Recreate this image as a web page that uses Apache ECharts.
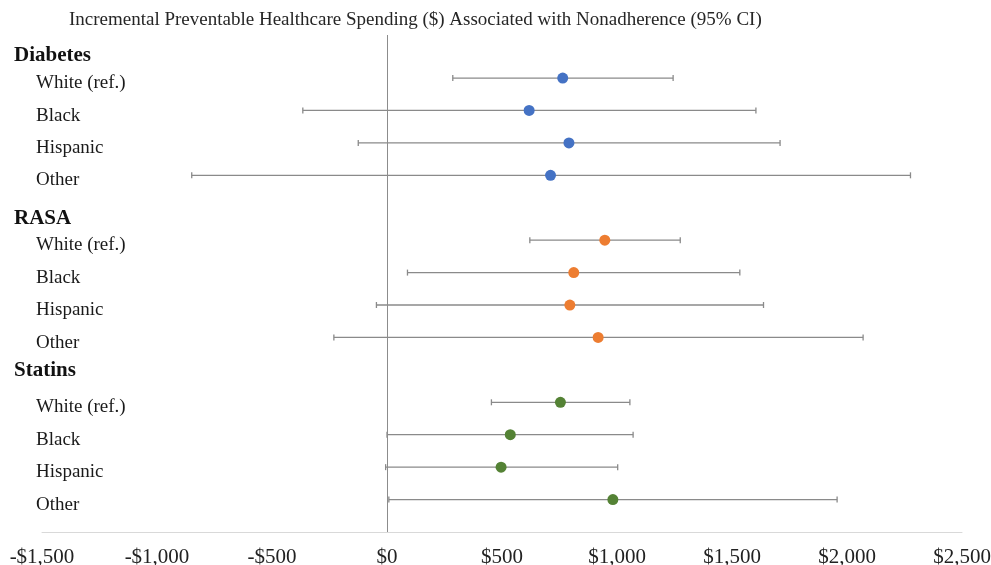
<!DOCTYPE html>
<html>
<head>
<meta charset="utf-8">
<script src="https://cdn.jsdelivr.net/npm/echarts@6/dist/echarts.min.js"></script>
<style>
  html, body { margin: 0; padding: 0; background: #fff; }
  #chart { width: 991px; height: 565px; }
</style>
</head>
<body>
<div id="chart"></div>
<script>
// Medication groups and the race/ethnicity subgroups within each
const groups = ['Diabetes', 'RASA', 'Statins'];
const subgroups = ['White (ref.)', 'Black', 'Hispanic', 'Other'];

// Point estimates and 95% CI bounds ($), in subgroup order
const diabetesEst  = [764, 618, 791, 711];
const diabetesLow  = [286, -366, -125, -849];
const diabetesHigh = [1244, 1604, 1709, 2276];

const rasaEst  = [947, 812, 795, 918];
const rasaLow  = [621, 89, -46, -231];
const rasaHigh = [1275, 1534, 1637, 2070];

const statinsEst  = [754, 536, 496, 982];
const statinsLow  = [454, 0, -6, 8];
const statinsHigh = [1056, 1070, 1003, 1957];

// X-axis ticks
const xTicks = [-1500, -1000, -500, 0, 500, 1000, 1500, 2000, 2500];

const groupColors = ['#4472C4', '#ED7D31', '#548235'];
const estimates = [diabetesEst, rasaEst, statinsEst];
const lows = [diabetesLow, rasaLow, statinsLow];
const highs = [diabetesHigh, rasaHigh, statinsHigh];

// Vertical slots: each group takes a heading slot followed by its four rows
const headerSlots = [0.31, 5.32, 10.03];
const rowSlot = (g, k) => g * 5 + 1 + k;
// Row captions sit a little below their markers
const rowLabelDrop = 0.16;

const rowValues = [];
const rowLabels = [];
groups.forEach((g, gi) => {
  subgroups.forEach((s, si) => {
    rowValues.push(rowSlot(gi, si) + rowLabelDrop);
    rowLabels.push(s);
  });
});

function fmtDollar(v) {
  return (v < 0 ? '-' : '') + '$' + Math.abs(v).toLocaleString('en-US');
}

const serif = 'Liberation Serif, Times New Roman, serif';
const series = [];

groups.forEach((g, gi) => {
  const barData = subgroups.map((s, si) => [lows[gi][si], highs[gi][si], rowSlot(gi, si)]);
  series.push({
    type: 'custom',
    name: g + ' CI',
    silent: true,
    z: 2,
    encode: { x: [0, 1], y: 2 },
    data: barData,
    renderItem: function (params, api) {
      const y = api.value(2);
      const a = api.coord([api.value(0), y]);
      const b = api.coord([api.value(1), y]);
      const cap = 3;
      const style = { stroke: '#8a8a8a', lineWidth: 1.3 };
      return {
        type: 'group',
        children: [
          { type: 'line', shape: { x1: a[0], y1: a[1], x2: b[0], y2: b[1] }, style: style },
          { type: 'line', shape: { x1: a[0], y1: a[1] - cap, x2: a[0], y2: a[1] + cap }, style: style },
          { type: 'line', shape: { x1: b[0], y1: b[1] - cap, x2: b[0], y2: b[1] + cap }, style: style }
        ]
      };
    }
  });
  series.push({
    type: 'scatter',
    name: g,
    z: 3,
    symbol: 'circle',
    symbolSize: 11,
    itemStyle: { color: groupColors[gi], opacity: 1 },
    data: subgroups.map((s, si) => [estimates[gi][si], rowSlot(gi, si)])
  });
});

// Zero reference line
series[1].markLine = {
  silent: true,
  symbol: 'none',
  label: { show: false },
  lineStyle: { color: '#8c8c8c', width: 1, type: 'solid' },
  data: [{ xAxis: 0 }]
};

const yBase = {
  type: 'value',
  inverse: true,
  min: -0.327,
  max: 15,
  axisLine: { show: false },
  axisTick: { show: false },
  splitLine: { show: false }
};

const chart = echarts.init(document.getElementById('chart'));
chart.setOption({
  backgroundColor: '#ffffff',
  animation: false,
  title: {
    text: 'Incremental Preventable Healthcare Spending ($) Associated with Nonadherence (95% CI)',
    left: 64,
    top: 6,
    textStyle: { fontFamily: serif, fontSize: 19, fontWeight: 'normal', color: '#262626' }
  },
  grid: { left: 42, right: 29, top: 35, bottom: 33, outerBoundsMode: 'none', containLabel: false },
  xAxis: {
    type: 'value',
    min: xTicks[0],
    max: xTicks[xTicks.length - 1],
    interval: 500,
    axisLine: { show: true, onZero: false, lineStyle: { color: '#d9d9d9', width: 1 } },
    axisTick: { show: false },
    splitLine: { show: false },
    axisLabel: {
      formatter: fmtDollar,
      fontFamily: serif,
      fontSize: 21,
      color: '#222',
      margin: 15,
      showMinLabel: true,
      showMaxLabel: true
    }
  },
  yAxis: [
    Object.assign({}, yBase, {
      axisLabel: {
        customValues: headerSlots,
        formatter: function (v) {
          const i = headerSlots.findIndex(h => Math.abs(h - v) < 1e-6);
          return i >= 0 ? groups[i] : '';
        },
        align: 'left',
        margin: 28,
        fontFamily: serif,
        fontSize: 21,
        fontWeight: 'bold',
        color: '#111'
      }
    }),
    Object.assign({}, yBase, {
      position: 'left',
      offset: 0,
      axisLabel: {
        customValues: rowValues,
        formatter: function (v) {
          const i = rowValues.findIndex(h => Math.abs(h - v) < 1e-6);
          return i >= 0 ? rowLabels[i] : '';
        },
        align: 'left',
        margin: 6,
        fontFamily: serif,
        fontSize: 19,
        color: '#1a1a1a'
      }
    })
  ],
  series: series
});
</script>
</body>
</html>
